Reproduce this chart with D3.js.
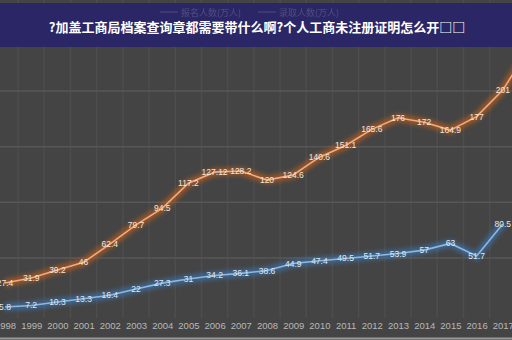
<!DOCTYPE html>
<html><head><meta charset="utf-8">
<script src="https://cdn.jsdelivr.net/npm/d3@7"></script>
<style>html,body{margin:0;padding:0;background:#444;}svg{display:block;}</style>
</head><body>
<svg id="c" width="512" height="340"></svg>
<script>
const years = ["1998","1999","2000","2001","2002","2003","2004","2005","2006","2007","2008","2009","2010","2011","2012","2013","2014","2015","2016","2017","2018"];
const tickYears = years.slice(0, 20);
const applicants = [27.4,31.9,39.2,46,62.4,79.7,94.5,117.2,127.12,128.2,120,124.6,140.6,151.1,165.6,176,172,164.9,177,201,238];
const admitted = [5.8,7.2,10.3,13.3,16.4,22,27.3,31,34.2,36.1,38.6,44.9,47.4,49.5,51.7,53.9,57,63,51.7,80.5];
const appLabels = ["27.4","31.9","39.2","46","62.4","79.7","94.5","117.2","127.12","128.2","120","124.6","140.6","151.1","165.6","176","172","164.9","177","201",""];
const yTicks = [0,50,100,150,200,250];
const seriesNames = ["报名人数(万人)","录取人数(万人)"];
const title = "?加盖工商局档案查询章都需要带什么啊?个人工商未注册证明怎么开\u25A1\u25A1";

const svg = d3.select("#c");
const W = 512, H = 340;
svg.append("rect").attr("width",W).attr("height",H).attr("fill","#444444");

const defs = svg.append("defs");
defs.append("filter").attr("id","glow").attr("x","-20%").attr("y","-20%").attr("width","140%").attr("height","140%")
  .append("feGaussianBlur").attr("stdDeviation",2.2);

const x = d3.scalePoint().domain(years).range([5, 5 + 26.2*20]);
const y = d3.scaleLinear().domain([0,250]).range([313.5, 35.5]);

// vertical faint grid between categories
const g = svg.append("g");
years.forEach((yr,i)=>{
  g.append("line").attr("x1",x(yr)+13.1).attr("x2",x(yr)+13.1).attr("y1",0).attr("y2",318)
   .attr("stroke","#4d4d4d").attr("stroke-width",1.5);
});
// horizontal grid
g.selectAll("line.h").data(yTicks.slice(1)).enter().append("line")
  .attr("x1",0).attr("x2",W).attr("y1",d=>y(d)).attr("y2",d=>y(d))
  .attr("stroke","#575757").attr("stroke-width",1.5);

// x axis labels
const xAxis = d3.axisBottom(x).tickValues(tickYears).tickSize(0).tickPadding(0);
const ax = svg.append("g").attr("transform","translate(0,322)").call(xAxis);
ax.select(".domain").remove();
ax.selectAll("text").attr("fill","#b8b8b8").style("font-family","Liberation Sans, Arial").style("font-size","9.5px");

// bottom line
svg.append("line").attr("x1",0).attr("x2",W).attr("y1",338.5).attr("y2",338.5).attr("stroke","#9a9a9a").attr("stroke-width",2);

const line = d3.line().x((d,i)=>x(years[i])).y(d=>y(d));

function drawSeries(vals, glowColor, color, labels, labelColor){
  svg.append("path").datum(vals).attr("d",line).attr("fill","none")
    .attr("stroke",glowColor).attr("stroke-width",8).attr("stroke-opacity",0.6).attr("filter","url(#glow)");
  svg.append("path").datum(vals).attr("d",line).attr("fill","none")
    .attr("stroke",color).attr("stroke-width",1.6);
  svg.append("g").selectAll("text").data(vals).enter().append("text")
    .attr("x",(d,i)=>x(years[i])).attr("y",d=>y(d)+3)
    .attr("text-anchor","middle")
    .style("font-family","Liberation Sans, Arial").style("font-size","8.5px")
    .attr("fill",labelColor)
    .text((d,i)=>labels ? labels[i] : String(d));
}
drawSeries(applicants, "#c8601e", "#f3ab78", appLabels, "#f2e6dc");
drawSeries(admitted, "#3c78b8", "#8ab8e2", null, "#dfe8f2");

// title bar
svg.append("rect").attr("x",0).attr("y",3).attr("width",W).attr("height",44).attr("fill","#2b2766");
// faint legend behind
const lg = svg.append("g").attr("opacity",0.16);
[[160,seriesNames[0]],[258,seriesNames[1]]].forEach(([lx,t])=>{
  lg.append("line").attr("x1",lx).attr("x2",lx+18).attr("y1",12).attr("y2",12).attr("stroke","#fff").attr("stroke-width",1);
  lg.append("text").attr("x",lx+21).attr("y",15.5).attr("fill","#fff")
    .style("font-family","Noto Sans CJK SC").style("font-size","9px").text(t);
});
svg.append("text").attr("x",257).attr("y",32).attr("text-anchor","middle")
  .attr("fill","#ffffff").style("font-family","Noto Sans CJK SC").style("font-weight","bold").style("font-size","13px")
  .text(title);
</script>
</body></html>
